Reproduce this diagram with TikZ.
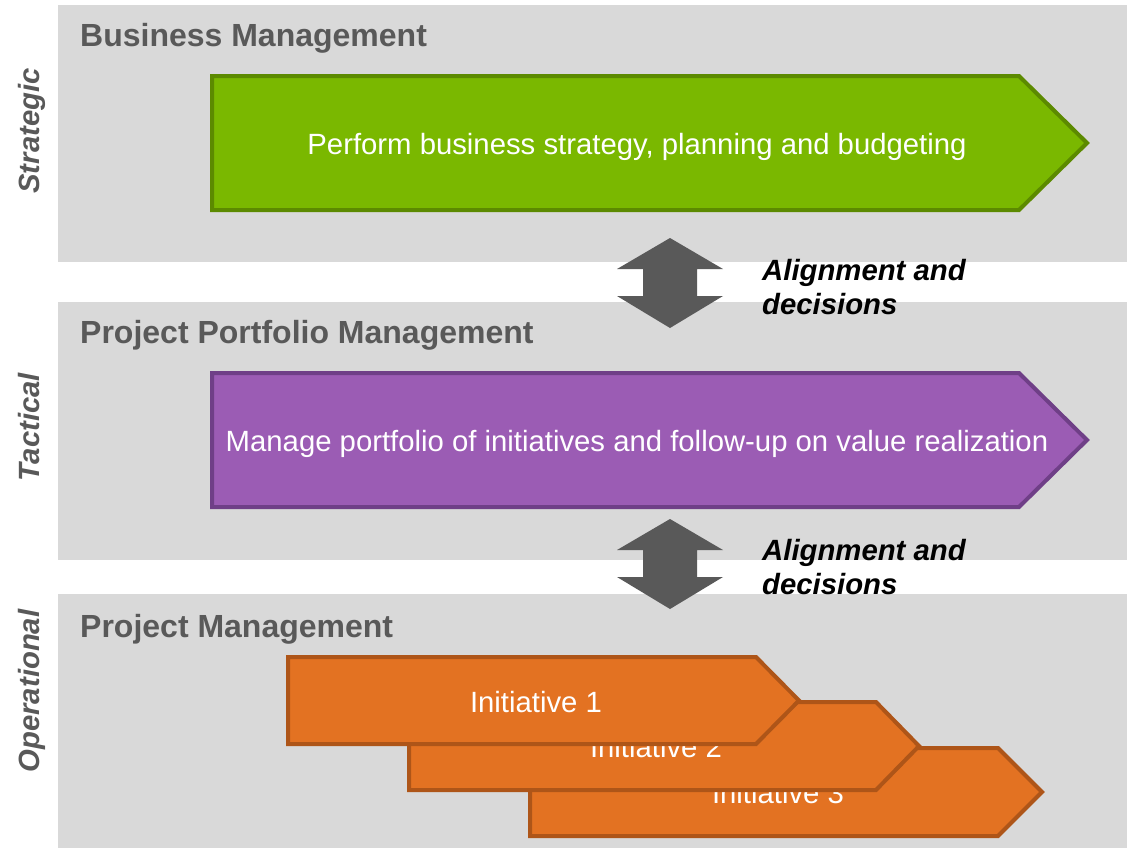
\documentclass[tikz,border=0pt]{standalone}
\usepackage{fontspec}
\setmainfont{Liberation Sans}
\usetikzlibrary{positioning}

\definecolor{bandgray}{HTML}{D9D9D9}
\definecolor{txtgray}{HTML}{595959}
\definecolor{stratfill}{HTML}{7AB800}
\definecolor{stratline}{HTML}{5C8A00}
\definecolor{tactfill}{HTML}{9B5CB4}
\definecolor{tactline}{HTML}{6F3F87}
\definecolor{operfill}{HTML}{E37222}
\definecolor{operline}{HTML}{AE5518}

\begin{document}
\begin{tikzpicture}[x=1pt,y=-1pt,
  band/.style={fill=bandgray},
  title/.style={anchor=base west, inner sep=0, text=txtgray, font=\fontsize{32}{38}\selectfont\bfseries},
  level/.style={rotate=90, anchor=base, inner sep=0, text=txtgray, font=\fontsize{29.3}{35}\selectfont\bfseries\itshape},
  chev/.style={line width=4pt, line join=miter},
  boxtext/.style={anchor=base, inner sep=0, text=white, font=\fontsize{29.3}{35}\selectfont},
  note/.style={anchor=base west, align=left, inner sep=0, font=\fontsize{29.3}{34}\selectfont\bfseries\itshape},
  darrow/.style={fill=txtgray}]
\useasboundingbox (0,0) rectangle (1127,849);

% bands
\fill[band] (58,5) rectangle (1127,262);
\fill[band] (58,302) rectangle (1127,560);
\fill[band] (58,594) rectangle (1127,848);

\node[title] (bm) at (80,46) {Business Management};
\node[title] (ppm) at (80,343) {Project Portfolio Management};
\node[title] (pm) at (80,637) {Project Management};

\node[level] (strat) at (39,131) {Strategic};
\node[level] (tact) at (39,427) {Tactical};
\node[level] (oper) at (39,691) {Operational};

% strategic
\draw[chev, fill=stratfill, draw=stratline] (212,76) -- (1019,76) -- (1087,143) -- (1019,210) -- (212,210) -- cycle;
\node[boxtext] (perform) at (637,154) {Perform business strategy, planning and budgeting};

% tactical
\draw[chev, fill=tactfill, draw=tactline] (212,373) -- (1019,373) -- (1087,440) -- (1019,507) -- (212,507) -- cycle;
\node[boxtext] (manage) at (637,451) {Manage portfolio of initiatives and follow-up on value realization};

% operational
\draw[chev, fill=operfill, draw=operline] (530,748) -- (998,748) -- (1042,792) -- (998,836) -- (530,836) -- cycle;
\node[boxtext] (init3) at (778,803) {Initiative 3};
\draw[chev, fill=operfill, draw=operline] (409,702) -- (876,702) -- (919,746) -- (876,790) -- (409,790) -- cycle;
\node[boxtext] (init2) at (656,757) {Initiative 2};
\draw[chev, fill=operfill, draw=operline] (288,657) -- (756,657) -- (799,700.5) -- (756,744) -- (288,744) -- cycle;
\node[boxtext] (init1) at (536,712) {Initiative 1};

% alignment arrows
\coordinate (a1) at (670,238);
\coordinate (a2) at (670,519);
\foreach \a in {a1,a2}
  \fill[darrow] (\a) -- ++(53,31) -- ++(-26,0) -- ++(0,27) -- ++(26,0) -- ++(-53,32)
    -- ++(-53,-32) -- ++(26,0) -- ++(0,-27) -- ++(-26,0) -- cycle;

\node[note] (align1) at (762,314) {Alignment and\\decisions};
\node[note] (align2) at (762,594) {Alignment and\\decisions};
\end{tikzpicture}
\end{document}
